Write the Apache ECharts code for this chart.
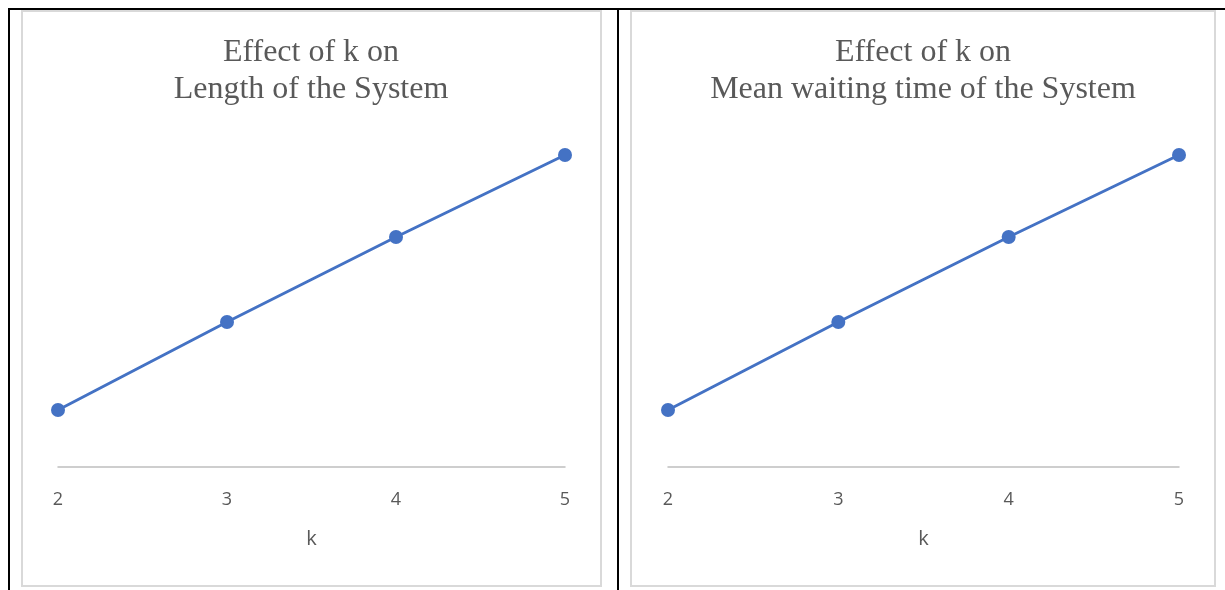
<!DOCTYPE html>
<html>
<head>
<meta charset="utf-8">
<script src="https://cdn.jsdelivr.net/npm/echarts@6/dist/echarts.min.js"></script>
<style>
html,body{margin:0;padding:0;background:#fff;}
#wrap{position:relative;width:1225px;height:590px;overflow:hidden;}
.bl{position:absolute;background:#000;}
.frame{position:absolute;border:2px solid #D9D9D9;box-sizing:border-box;background:#fff;}
#chart{position:absolute;left:0;top:0;width:1225px;height:590px;}
</style>
</head>
<body>
<div id="wrap">
  <div class="bl" style="left:8px;top:8px;width:1217px;height:2px;"></div>
  <div class="bl" style="left:8px;top:8px;width:2px;height:582px;"></div>
  <div class="bl" style="left:617px;top:8px;width:2px;height:582px;"></div>
  <div class="frame" style="left:21px;top:10px;width:581px;height:577px;"></div>
  <div class="frame" style="left:630px;top:10px;width:586px;height:577px;"></div>
  <div id="chart"></div>
</div>
<script>
// Data (y axis hidden, values in relative units)
const kValues = ['2', '3', '4', '5'];
const lengthOfSystem = [0.57, 1.45, 2.30, 3.12];
const meanWaitingTime = [0.57, 1.45, 2.30, 3.12];
const titleLeft = 'Effect of k on\nLength of the System';
const titleRight = 'Effect of k on\nMean waiting time of the System';
const xAxisName = 'k';

const lineColor = '#4472C4';
const textColor = '#595959';

function xAxis(gridIndex) {
  return {
    type: 'category', gridIndex: gridIndex, data: kValues, boundaryGap: false,
    name: xAxisName, nameLocation: 'middle', nameGap: 62,
    nameTextStyle: { color: textColor, fontSize: 20, fontFamily: 'Open Sans' },
    axisLine: { lineStyle: { color: '#BFBFBF', width: 1.5 } },
    axisTick: { show: false },
    axisLabel: { color: textColor, fontSize: 18, fontFamily: 'Open Sans', margin: 24 },
    splitLine: { show: false }
  };
}
function yAxis(gridIndex) {
  return {
    type: 'value', gridIndex: gridIndex, min: 0, max: 3.5, show: false,
    splitLine: { show: false }
  };
}
function series(i, data) {
  return {
    type: 'line', xAxisIndex: i, yAxisIndex: i, data: data,
    symbol: 'circle', symbolSize: 14,
    lineStyle: { color: lineColor, width: 3 },
    itemStyle: { color: lineColor },
    animation: false
  };
}
const chart = echarts.init(document.getElementById('chart'), null, { renderer: 'canvas' });
chart.setOption({
  backgroundColor: 'transparent',
  animation: false,
  title: [
    { text: titleLeft, left: 306, top: 29, textAlign: 'center',
      textStyle: { color: textColor, fontSize: 32, fontWeight: 'normal', fontFamily: 'Liberation Serif', lineHeight: 37, align: 'center' } },
    { text: titleRight, left: 918, top: 29, textAlign: 'center',
      textStyle: { color: textColor, fontSize: 32, fontWeight: 'normal', fontFamily: 'Liberation Serif', lineHeight: 37, align: 'center' } }
  ],
  grid: [
    { left: 58, width: 507, top: 117, height: 350 },
    { left: 668, width: 511, top: 117, height: 350 }
  ],
  xAxis: [xAxis(0), xAxis(1)],
  yAxis: [yAxis(0), yAxis(1)],
  series: [series(0, lengthOfSystem), series(1, meanWaitingTime)]
});
</script>
</body>
</html>
